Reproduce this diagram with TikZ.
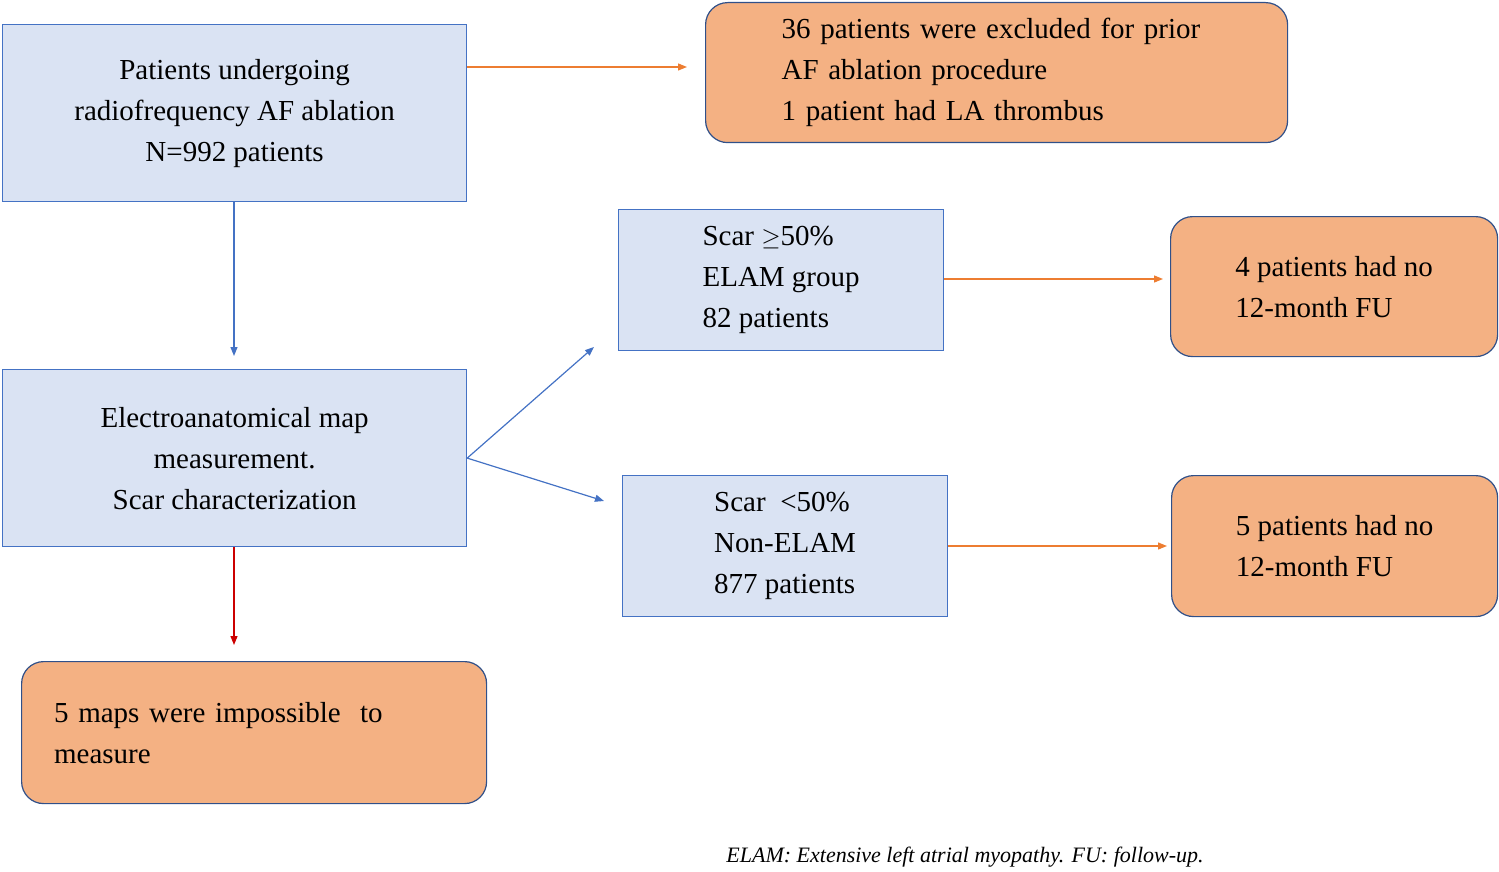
\documentclass[tikz,border=0pt]{standalone}
\usepackage{fontspec}
\setmainfont{Liberation Serif}
\usetikzlibrary{arrows.meta}
\definecolor{bfill}{HTML}{DAE3F3}
\definecolor{bline}{HTML}{4472C4}
\definecolor{ofill}{HTML}{F4B183}
\definecolor{oline}{HTML}{ED7D31}
\begin{document}
\begin{tikzpicture}[x=1pt,y=-1pt,
 txt/.style={font=\fontsize{29}{41}\selectfont},
 bbox/.style={txt,draw=bline,fill=bfill,line width=1.2pt,anchor=north west,inner sep=0pt},
 obox/.style={txt,draw=bline!70!black,fill=ofill,line width=1.2pt,rounded corners=22pt,anchor=north west,inner sep=0pt},
 arr/.style={line width=1.2pt,-{Triangle[length=9pt,width=7pt]}}]
\useasboundingbox (0,0) rectangle (1499,872);
\node[bbox,minimum width=464,minimum height=177,align=center] (A) at (2,24) {Patients undergoing\\radiofrequency AF ablation\\N=992 patients};
\node[obox,minimum width=582,minimum height=140,align=left,text width=520] (B) at (705,2) {\hspace*{45pt}36 patients were excluded for prior\\\hspace*{45pt}AF ablation procedure\\\hspace*{45pt}1 patient had LA thrombus};
\node[bbox,minimum width=464,minimum height=177,align=center] (C) at (2,369) {Electroanatomical map\\measurement.\\Scar characterization};
\node[bbox,minimum width=325,minimum height=141,align=left] (D) at (618,209) {\hspace*{0pt}Scar $\geq$50\%\\ELAM group\\82 patients};
\node[obox,minimum width=327,minimum height=140,align=left] (E) at (1170,216) {4 patients had no\\12-month FU};
\node[bbox,minimum width=325,minimum height=141,align=left] (F) at (622,475) {Scar\ \ <50\%\\Non-ELAM\\877 patients};
\node[obox,minimum width=326,minimum height=141,align=left] (G) at (1171,475) {5 patients had no\\12-month FU};
\node[obox,minimum width=465,minimum height=142,align=left,text width=400] (H) at (21,661) {5 maps were impossible\ \ to\\measure};
\node[font=\fontsize{22}{26}\selectfont\itshape] (cap) at (965,857) {ELAM: Extensive left atrial myopathy. FU: follow-up.};
\coordinate (b1) at (687,67);
\coordinate (c1) at (234,356);
\coordinate (d1) at (594,347);
\coordinate (f1) at (604,501);
\coordinate (e1) at (1163,279);
\coordinate (g1) at (1167,546);
\coordinate (h1) at (234,645);
\draw[arr,oline] (A.east|-b1) -- (b1);
\draw[arr,bline] (A.south-|c1) -- (c1);
\draw[arr,bline] (C.east) -- (d1);
\draw[arr,bline] (C.east) -- (f1);
\draw[arr,oline] (D.east|-e1) -- (e1);
\draw[arr,oline] (F.east|-g1) -- (g1);
\draw[arr,red!80!black] (C.south-|h1) -- (h1);
\end{tikzpicture}
\end{document}
